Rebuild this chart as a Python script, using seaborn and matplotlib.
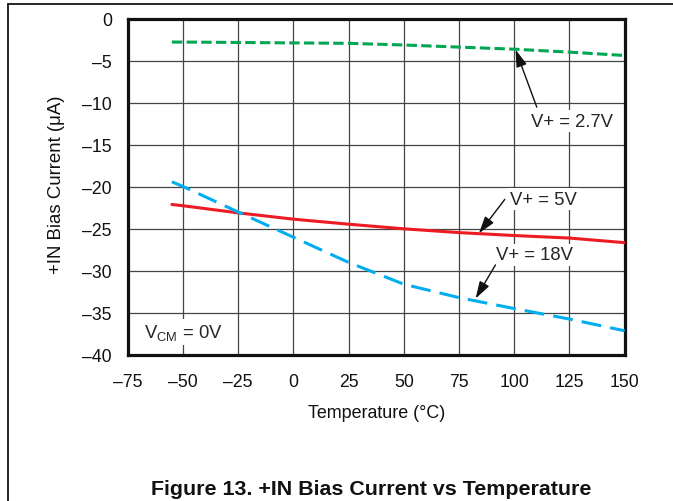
import matplotlib
matplotlib.use("Agg")
import matplotlib.pyplot as plt
import seaborn as sns
import pandas as pd
from matplotlib.lines import Line2D

# ---- data ----
temps = [-55, -50, -25, 0, 25, 50, 75, 100, 125, 150]
bias_2v7 = [-2.75, -2.75, -2.8, -2.85, -2.9, -3.1, -3.35, -3.6, -3.95, -4.35]
bias_5v = [-22.1, -22.25, -23.1, -23.85, -24.45, -25.0, -25.45, -25.8, -26.1, -26.65]
bias_18v = [-19.4, -19.95, -23.0, -26.0, -29.0, -31.6, -33.2, -34.5, -35.75, -37.15]
series_names = ["V+ = 2.7V", "V+ = 5V", "V+ = 18V"]
x_ticks = [-75, -50, -25, 0, 25, 50, 75, 100, 125, 150]
y_ticks = [-40, -35, -30, -25, -20, -15, -10, -5, 0]

df = pd.concat([
    pd.DataFrame({"T": temps, "I": vals, "series": name})
    for name, vals in zip(series_names, [bias_2v7, bias_5v, bias_18v])
], ignore_index=True)

sns.set_theme(style="white")
plt.rcParams["font.family"] = ["Liberation Sans", "DejaVu Sans"]

fig = plt.figure(figsize=(6.73, 5.02), dpi=100)
ax = fig.add_axes([0.1898, 0.2914, 0.7384, 0.6688])

palette = {"V+ = 2.7V": "#00a651", "V+ = 5V": "#ed1c24", "V+ = 18V": "#00aeef"}
dashes = {"V+ = 2.7V": (3.4, 1.4), "V+ = 5V": "", "V+ = 18V": (6.5, 3.0)}
sns.lineplot(data=df, x="T", y="I", hue="series", style="series",
             palette=palette, dashes=dashes, linewidth=2.2, legend=False,
             ax=ax, zorder=3)

ax.set_xlim(-75, 150)
ax.set_ylim(-40, 0)
ax.set_xticks(x_ticks)
ax.set_yticks(y_ticks)
ax.set_xticklabels([f"{v}".replace("-", "\u2013") for v in x_ticks])
ax.set_yticklabels([f"{v}".replace("-", "\u2013") for v in y_ticks])
ax.grid(True, color="#444444", linewidth=0.9)
ax.set_axisbelow(True)
for s in ax.spines.values():
    s.set_visible(True)
    s.set_color("#111111")
    s.set_linewidth(2.3)
ax.tick_params(axis="both", length=0, labelsize=12.7, colors="#111111")
ax.tick_params(axis="y", pad=11.5)
ax.tick_params(axis="x", pad=13)
ax.set_xlabel("Temperature (°C)", fontsize=12.9, labelpad=10, color="#111111")
ax.set_ylabel("+IN Bias Current (\u03bcA)", fontsize=13.4, color="#111111")
ax.yaxis.set_label_coords(-0.126, 0.51)

box = dict(boxstyle="square,pad=0.15", fc="white", ec="none")
fs_ann = 13.3
ax.text(126, -12.16, "V+ = 2.7V", fontsize=fs_ann, ha="center", va="center", bbox=box, zorder=4)
ax.text(113, -21.45, "V+ = 5V", fontsize=fs_ann, ha="center", va="center", bbox=box, zorder=4)
ax.text(109, -28.1, "V+ = 18V", fontsize=fs_ann, ha="center", va="center", bbox=box, zorder=4)
ax.text(-50, -37.3, "V$_{\\mathregular{CM}}$ = 0V", fontsize=fs_ann, ha="center", va="center",
        bbox=box, zorder=4)

arrow = dict(arrowstyle="-|>,head_length=0.8,head_width=0.25", color="#111111", lw=1.0,
             mutation_scale=13, shrinkA=0, shrinkB=0)
ax.annotate("", xy=(100.6, -3.66), xytext=(110.2, -10.5), arrowprops=arrow, zorder=5)
ax.annotate("", xy=(84, -25.54), xytext=(95.7, -21.5), arrowprops=arrow, zorder=5)
ax.annotate("", xy=(82.5, -33.3), xytext=(91.5, -29.3), arrowprops=arrow, zorder=5)

fig.text(0.551, 1 - 490 / 502, "Figure 13. +IN Bias Current vs Temperature",
         ha="center", va="center", fontsize=15.4, fontweight="bold", color="#111111")

# page frame lines
fig.add_artist(Line2D([8 / 673, 1.0], [1 - 5 / 502, 1 - 5 / 502], color="black", lw=1.2,
                      transform=fig.transFigure))
fig.add_artist(Line2D([8 / 673, 8 / 673], [0, 1 - 5 / 502], color="black", lw=1.2,
                      transform=fig.transFigure))

fig.savefig("out.png", dpi=100)
